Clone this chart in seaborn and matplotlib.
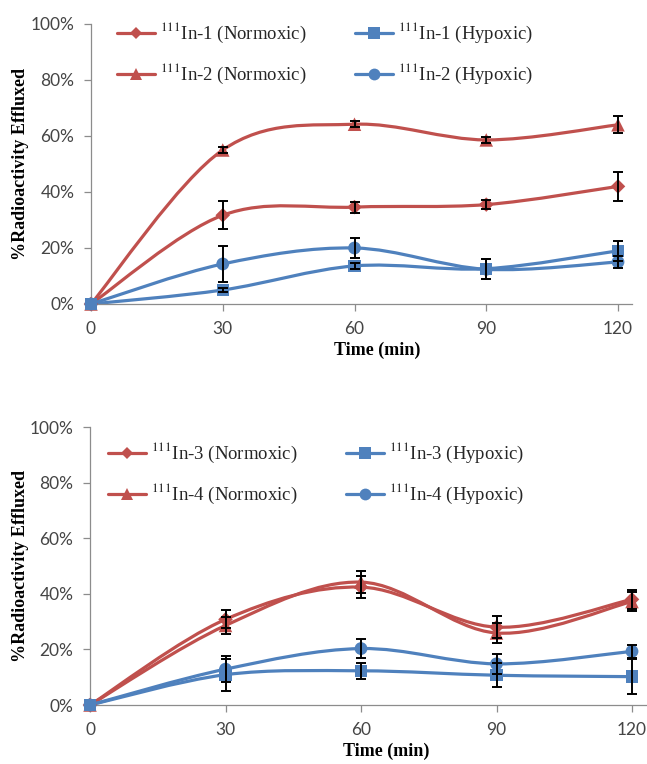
import numpy as np
import pandas as pd
import matplotlib
matplotlib.use("Agg")
import matplotlib.pyplot as plt
import seaborn as sns
from matplotlib.path import Path
from matplotlib.patches import PathPatch
from matplotlib.lines import Line2D
from matplotlib.ticker import PercentFormatter

# ---------------- data ----------------
time_min = [0, 30, 60, 90, 120]

# top panel
in1_norm = [0.0, 31.7, 34.6, 35.5, 42.0]
in1_norm_err = [0.0, 5.0, 2.0, 1.5, 5.2]
in2_norm = [0.0, 55.0, 64.2, 58.6, 64.0]
in2_norm_err = [0.0, 1.2, 1.0, 1.0, 3.0]
in1_hyp = [0.0, 5.0, 13.6, 12.6, 19.0]
in1_hyp_err = [0.0, 0.8, 1.0, 3.5, 3.6]
in2_hyp = [0.0, 14.3, 20.0, 12.4, 15.0]
in2_hyp_err = [0.0, 6.5, 3.5, 3.5, 2.0]

# bottom panel
in3_norm = [0.0, 30.8, 42.4, 28.0, 38.0]
in3_norm_err = [0.0, 3.2, 4.0, 4.0, 3.4]
in4_norm = [0.0, 28.6, 44.2, 25.9, 37.2]
in4_norm_err = [0.0, 3.0, 4.0, 3.5, 3.5]
in3_hyp = [0.0, 10.9, 12.3, 10.7, 10.2]
in3_hyp_err = [0.0, 5.8, 2.8, 4.3, 6.2]
in4_hyp = [0.0, 12.9, 20.3, 14.8, 19.3]
in4_hyp_err = [0.0, 4.6, 3.4, 3.6, 2.4]

y_ticks = [0, 20, 40, 60, 80, 100]
x_ticks = [0, 30, 60, 90, 120]

RED = "#C0504D"
BLUE = "#4F81BD"

# order: column 1 = normoxic, column 2 = hypoxic
top_series = [
    ("$^{111}$In-1 (Normoxic)", in1_norm, in1_norm_err, RED, "D", 55),
    ("$^{111}$In-2 (Normoxic)", in2_norm, in2_norm_err, RED, "^", 95),
    ("$^{111}$In-1 (Hypoxic)", in1_hyp, in1_hyp_err, BLUE, "s", 80),
    ("$^{111}$In-2 (Hypoxic)", in2_hyp, in2_hyp_err, BLUE, "o", 85),
]
bottom_series = [
    ("$^{111}$In-3 (Normoxic)", in3_norm, in3_norm_err, RED, "D", 55),
    ("$^{111}$In-4 (Normoxic)", in4_norm, in4_norm_err, RED, "^", 95),
    ("$^{111}$In-3 (Hypoxic)", in3_hyp, in3_hyp_err, BLUE, "s", 80),
    ("$^{111}$In-4 (Hypoxic)", in4_hyp, in4_hyp_err, BLUE, "o", 85),
]

sns.set_theme(style="white")
plt.rcParams["mathtext.fontset"] = "stix"
SERIF = "Liberation Serif"
TICKFONT = "Lato"


def smooth_path(xs, ys):
    # Excel-style smoothed line (cubic Bezier, tension 1/6) in data coordinates
    xs = np.asarray(xs, float)
    ys = np.asarray(ys, float)
    n = len(xs)
    verts = [(xs[0], ys[0])]
    codes = [Path.MOVETO]
    for i in range(n - 1):
        i0 = max(i - 1, 0)
        i3 = min(i + 2, n - 1)
        c1 = (xs[i] + (xs[i + 1] - xs[i0]) / 6.0, ys[i] + (ys[i + 1] - ys[i0]) / 6.0)
        c2 = (xs[i + 1] - (xs[i3] - xs[i]) / 6.0, ys[i + 1] - (ys[i3] - ys[i]) / 6.0)
        verts += [c1, c2, (xs[i + 1], ys[i + 1])]
        codes += [Path.CURVE4] * 3
    return Path(verts, codes)


def draw_panel(ax, series, xmax, legend_anchor, ylab_x, xlab_x):
    rows = []
    for name, vals, errs, col, mk, sz in series:
        for t, v, e in zip(time_min, vals, errs):
            rows.append({"Time": t, "Value": v, "Err": e, "Series": name})
    df = pd.DataFrame(rows)

    for name, vals, errs, col, mk, sz in series:
        patch = PathPatch(smooth_path(time_min, vals), facecolor="none",
                          edgecolor=col, lw=2.3, zorder=2, clip_on=False)
        ax.add_patch(patch)

    palette = {s[0]: s[3] for s in series}
    markers = {s[0]: s[4] for s in series}
    sizes = {s[0]: s[5] for s in series}
    sns.scatterplot(data=df, x="Time", y="Value", hue="Series", style="Series",
                    palette=palette, markers=markers, size="Series", sizes=sizes,
                    linewidth=0, legend=False, ax=ax, zorder=3, clip_on=False)

    for name, vals, errs, col, mk, sz in series:
        sub = df[df["Series"] == name]
        sub = sub[sub["Err"] > 0]
        ax.errorbar(sub["Time"], sub["Value"], yerr=sub["Err"], fmt="none",
                    ecolor="black", elinewidth=1.4, capsize=3.5, capthick=1.4,
                    zorder=4, clip_on=False)

    ax.set_xlim(0, xmax)
    ax.set_ylim(0, 100)
    ax.set_xticks(x_ticks)
    ax.set_yticks(y_ticks)
    ax.yaxis.set_major_formatter(PercentFormatter(100, decimals=0))
    for sp in ["top", "right"]:
        ax.spines[sp].set_visible(False)
    for sp in ["left", "bottom"]:
        ax.spines[sp].set_color("#8c8c8c")
        ax.spines[sp].set_linewidth(0.9)
    ax.tick_params(axis="both", which="major", direction="out", length=5,
                   width=0.9, color="#8c8c8c", labelcolor="#454545",
                   labelsize=12.5, bottom=True, left=True)
    ax.tick_params(axis="y", pad=7)
    ax.tick_params(axis="x", pad=7)
    for lab in ax.get_xticklabels() + ax.get_yticklabels():
        lab.set_fontfamily(TICKFONT)
    ax.set_xlabel("Time (min)", fontfamily=SERIF, fontweight="bold",
                  fontsize=13, color="black")
    ax.set_ylabel("%Radioactivity Effluxed", fontfamily=SERIF, fontweight="bold",
                  fontsize=13, color="black")
    ax.yaxis.set_label_coords(ylab_x, 0.5)
    ax.xaxis.set_label_coords(xlab_x, -0.135)
    ax.grid(False)

    handles = [Line2D([0], [0], color=s[3], lw=2.3, marker=s[4],
                      markersize=6 if s[4] == "D" else 8.5, markeredgewidth=0)
               for s in series]
    labels = [s[0] for s in series]
    ax.legend(handles, labels, ncol=2, frameon=False, loc="upper left",
              bbox_to_anchor=legend_anchor, bbox_transform=ax.figure.transFigure,
              prop={"family": SERIF, "size": 13.5}, handlelength=2.0,
              handletextpad=0.3, columnspacing=2.6, labelspacing=0.9,
              borderaxespad=0, borderpad=0)


fig = plt.figure(figsize=(6.47, 7.64), dpi=100)
ax1 = fig.add_axes([91 / 647, 1 - 304 / 764, 541 / 647, 280 / 764])
ax2 = fig.add_axes([90 / 647, 1 - 705 / 764, 557 / 647, 278 / 764])

draw_panel(ax1, top_series, 120 * 541 / 527, (117 / 647, 1 - 21 / 764),
           (29 - 91) / 541, (377 - 91) / 541)
draw_panel(ax2, bottom_series, 120 * 557 / 542, (108 / 647, 1 - 441 / 764),
           (29 - 90) / 557, (386 - 90) / 557)

fig.savefig("out.png", dpi=100, facecolor="white")
